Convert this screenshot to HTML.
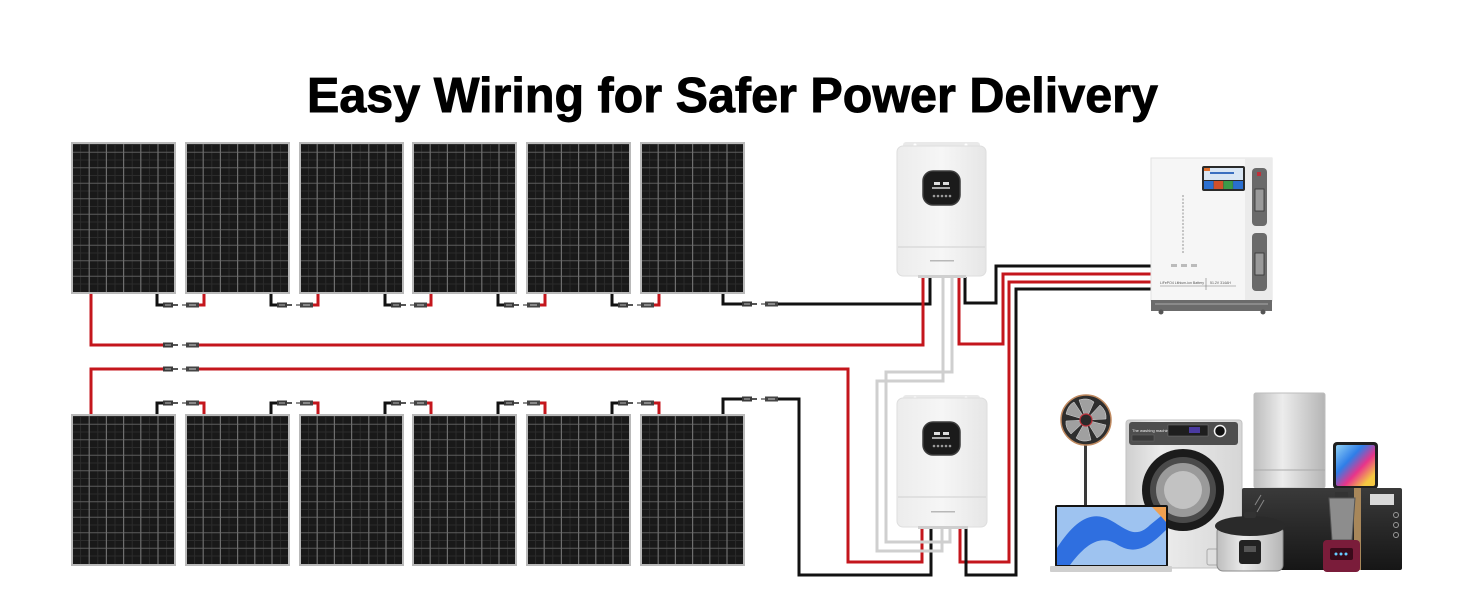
<!DOCTYPE html>
<html><head><meta charset="utf-8"><style>
html,body{margin:0;padding:0;background:#fff;}
svg{display:block;}
</style></head><body>
<svg width="1464" height="600" viewBox="0 0 1464 600" xmlns="http://www.w3.org/2000/svg">
<defs>
  <g id="panel">
    <rect x="0" y="0" width="103" height="150" fill="#191919" stroke="#b9b9b9" stroke-width="2"/>
    <g stroke="#2c2c2c" stroke-width="1">
      <line x1="1" y1="1.5" x2="102" y2="1.5"/><line x1="1" y1="17" x2="102" y2="17"/><line x1="1" y1="32.5" x2="102" y2="32.5"/>
      <line x1="1" y1="48" x2="102" y2="48"/><line x1="1" y1="63.5" x2="102" y2="63.5"/><line x1="1" y1="79" x2="102" y2="79"/>
      <line x1="1" y1="94.5" x2="102" y2="94.5"/><line x1="1" y1="110" x2="102" y2="110"/><line x1="1" y1="125.5" x2="102" y2="125.5"/>
      <line x1="1" y1="141" x2="102" y2="141"/>
      <line x1="8.6" y1="1" x2="8.6" y2="149"/><line x1="25.8" y1="1" x2="25.8" y2="149"/><line x1="43" y1="1" x2="43" y2="149"/>
      <line x1="60.2" y1="1" x2="60.2" y2="149"/><line x1="77.4" y1="1" x2="77.4" y2="149"/><line x1="94.6" y1="1" x2="94.6" y2="149"/>
    </g>
    <g stroke="#5c5c5c" stroke-width="1">
      <line x1="1" y1="9.3" x2="102" y2="9.3"/><line x1="1" y1="24.8" x2="102" y2="24.8"/><line x1="1" y1="40.3" x2="102" y2="40.3"/>
      <line x1="1" y1="55.8" x2="102" y2="55.8"/><line x1="1" y1="71.3" x2="102" y2="71.3"/><line x1="1" y1="86.8" x2="102" y2="86.8"/>
      <line x1="1" y1="102.3" x2="102" y2="102.3"/><line x1="1" y1="117.8" x2="102" y2="117.8"/><line x1="1" y1="133.3" x2="102" y2="133.3"/>
    </g>
    <g stroke="#6e6e6e" stroke-width="1.2">
      <line x1="17.2" y1="1" x2="17.2" y2="149"/><line x1="34.4" y1="1" x2="34.4" y2="149"/><line x1="51.6" y1="1" x2="51.6" y2="149"/>
      <line x1="68.8" y1="1" x2="68.8" y2="149"/><line x1="86" y1="1" x2="86" y2="149"/>
    </g>
  </g>
  <g id="conn">
    <rect x="0" y="-2.5" width="10" height="5" fill="#3a3a3a"/>
    <rect x="2" y="-1" width="6" height="2" fill="#777"/>
    <rect x="10" y="-1" width="5" height="2" fill="#555"/>
    <line x1="19" y1="0" x2="23" y2="0" stroke="#444" stroke-width="1.2"/>
    <rect x="23" y="-2.5" width="13" height="5" fill="#444"/>
    <rect x="26" y="-1" width="7" height="2" fill="#888"/>
  </g>
  <linearGradient id="inv" x1="0" y1="0" x2="1" y2="0">
    <stop offset="0" stop-color="#ececec"/><stop offset="0.5" stop-color="#f6f6f6"/><stop offset="1" stop-color="#e6e6e6"/>
  </linearGradient>
  <linearGradient id="silver" x1="0" y1="0" x2="1" y2="0">
    <stop offset="0" stop-color="#bdbdbd"/><stop offset="0.4" stop-color="#ececec"/><stop offset="1" stop-color="#b5b5b5"/>
  </linearGradient>
  <linearGradient id="wash" x1="0" y1="0" x2="1" y2="0">
    <stop offset="0" stop-color="#cfcfcf"/><stop offset="0.3" stop-color="#ececec"/><stop offset="1" stop-color="#d6d6d6"/>
  </linearGradient>
  <linearGradient id="tab" x1="0" y1="0" x2="1" y2="1">
    <stop offset="0" stop-color="#8fd0f5"/><stop offset="0.35" stop-color="#2f7ee8"/><stop offset="0.6" stop-color="#e8348a"/><stop offset="0.85" stop-color="#f5c842"/>
  </linearGradient>
  <linearGradient id="micro" x1="0" y1="0" x2="0" y2="1">
    <stop offset="0" stop-color="#3a3a3a"/><stop offset="1" stop-color="#161616"/>
  </linearGradient>
</defs>

<!-- Title -->
<text x="307" y="112" font-family="Liberation Sans, Arial, sans-serif" font-weight="700" font-size="49" textLength="851" lengthAdjust="spacingAndGlyphs" fill="#000" stroke="#000" stroke-width="0.9">Easy Wiring for Safer Power Delivery</text>

<!-- Panels top row -->
<use href="#panel" x="72" y="143"/>
<use href="#panel" x="186" y="143"/>
<use href="#panel" x="300" y="143"/>
<use href="#panel" x="413" y="143"/>
<use href="#panel" x="527" y="143"/>
<use href="#panel" x="641" y="143"/>
<!-- Panels bottom row -->
<use href="#panel" x="72" y="415"/>
<use href="#panel" x="186" y="415"/>
<use href="#panel" x="300" y="415"/>
<use href="#panel" x="413" y="415"/>
<use href="#panel" x="527" y="415"/>
<use href="#panel" x="641" y="415"/>

<!-- Wires -->
<g fill="none" stroke-width="3" stroke-linejoin="miter">
  <g stroke="#111">
    <polyline points="157,294 157,305 163,305"/>
    <polyline points="271,294 271,305 277,305"/>
    <polyline points="385,294 385,305 391,305"/>
    <polyline points="498,294 498,305 504,305"/>
    <polyline points="612,294 612,305 618,305"/>
    <polyline points="723,294 723,304 742,304"/>
    <polyline points="777,304 930,304 930,277"/>
  </g>
  <g stroke="#c4161c">
    <polyline points="199,305 204,305 204,294"/>
    <polyline points="313,305 318,305 318,294"/>
    <polyline points="427,305 431,305 431,294"/>
    <polyline points="540,305 545,305 545,294"/>
    <polyline points="654,305 659,305 659,294"/>
    <polyline points="91,294 91,345 163,345"/>
    <polyline points="199,345 923,345 923,277"/>
    <polyline points="91,414 91,369 163,369"/>
    <polyline points="199,369 848,369 848,562 922,562 922,527"/>
  </g>
  <g stroke="#111">
    <polyline points="157,414 157,403 163,403"/>
    <polyline points="271,414 271,403 277,403"/>
    <polyline points="385,414 385,403 391,403"/>
    <polyline points="498,414 498,403 504,403"/>
    <polyline points="612,414 612,403 618,403"/>
    <polyline points="723,414 723,399 742,399"/>
    <polyline points="777,399 799,399 799,575 931,575 931,527"/>
  </g>
  <g stroke="#c4161c">
    <polyline points="199,403 204,403 204,414"/>
    <polyline points="313,403 318,403 318,414"/>
    <polyline points="427,403 431,403 431,414"/>
    <polyline points="540,403 545,403 545,414"/>
    <polyline points="654,403 659,403 659,414"/>
  </g>
  <g stroke="#cfcfcf">
    <polyline points="943,277 943,381 877,381 877,551 942,551 942,527"/>
    <polyline points="952,277 952,372 886,372 886,542 950,542 950,527"/>
  </g>
  <polyline stroke="#c4161c" points="959,277 959,344 1003,344 1003,274 1152,274"/>
  <polyline stroke="#111" points="965,277 965,303 996,303 996,266 1152,266"/>
  <polyline stroke="#c4161c" points="1152,282 1009,282 1009,562 960,562 960,527"/>
  <polyline stroke="#111" points="1152,289 1016,289 1016,575 966,575 966,527"/>
</g>

<!-- Connectors -->
<use href="#conn" x="163" y="305"/>
<use href="#conn" x="277" y="305"/>
<use href="#conn" x="391" y="305"/>
<use href="#conn" x="504" y="305"/>
<use href="#conn" x="618" y="305"/>
<use href="#conn" x="742" y="304"/>
<use href="#conn" x="163" y="345"/>
<use href="#conn" x="163" y="369"/>
<use href="#conn" x="163" y="403"/>
<use href="#conn" x="277" y="403"/>
<use href="#conn" x="391" y="403"/>
<use href="#conn" x="504" y="403"/>
<use href="#conn" x="618" y="403"/>
<use href="#conn" x="742" y="399"/>

<!-- Inverter 1 -->
<g>
  <rect x="903" y="142" width="77" height="8" rx="3" fill="#e9e9e9"/>
  <circle cx="915" cy="145" r="1.5" fill="#fff"/><circle cx="966" cy="145" r="1.5" fill="#fff"/>
  <rect x="897" y="146" width="89" height="130" rx="6" fill="url(#inv)" stroke="#dedede"/>
  <line x1="898" y1="247" x2="985" y2="247" stroke="#d6d6d6" stroke-width="1.2"/>
  <rect x="930" y="260" width="24" height="1.5" fill="#b8b8b8"/>
  <rect x="923" y="171" width="37" height="34" rx="10" fill="#1b1b1b" stroke="#3c3c3c" stroke-width="1.5"/>
  <rect x="934" y="182" width="6" height="3" fill="#ddd"/><rect x="943" y="182" width="6" height="3" fill="#ddd"/>
  <rect x="932" y="187" width="18" height="2" fill="#aaa"/>
  <circle cx="934" cy="196" r="1.3" fill="#999"/><circle cx="938" cy="196" r="1.3" fill="#999"/><circle cx="942" cy="196" r="1.3" fill="#999"/><circle cx="946" cy="196" r="1.3" fill="#999"/><circle cx="950" cy="196" r="1.3" fill="#999"/>
  <rect x="918" y="275" width="48" height="3" fill="#cfcfcf"/>
</g>
<!-- Inverter 2 -->
<g>
  <rect x="903" y="395" width="77" height="8" rx="3" fill="#e9e9e9"/>
  <circle cx="915" cy="398" r="1.5" fill="#fff"/><circle cx="966" cy="398" r="1.5" fill="#fff"/>
  <rect x="897" y="398" width="90" height="129" rx="6" fill="url(#inv)" stroke="#dedede"/>
  <line x1="898" y1="497" x2="986" y2="497" stroke="#d6d6d6" stroke-width="1.2"/>
  <rect x="931" y="511" width="24" height="1.5" fill="#b8b8b8"/>
  <rect x="923" y="422" width="37" height="33" rx="10" fill="#1b1b1b" stroke="#3c3c3c" stroke-width="1.5"/>
  <rect x="934" y="432" width="6" height="3" fill="#ddd"/><rect x="943" y="432" width="6" height="3" fill="#ddd"/>
  <rect x="932" y="437" width="18" height="2" fill="#aaa"/>
  <circle cx="934" cy="446" r="1.3" fill="#999"/><circle cx="938" cy="446" r="1.3" fill="#999"/><circle cx="942" cy="446" r="1.3" fill="#999"/><circle cx="946" cy="446" r="1.3" fill="#999"/><circle cx="950" cy="446" r="1.3" fill="#999"/>
  <rect x="918" y="526" width="50" height="3" fill="#cfcfcf"/>
</g>

<!-- Battery -->
<g>
  <rect x="1151" y="158" width="121" height="143" fill="#f6f6f6" stroke="#e2e2e2"/>
  <rect x="1245" y="158" width="27" height="143" fill="#ebebeb"/>
  <rect x="1252" y="168" width="15" height="58" rx="4" fill="#6a6a6a"/>
  <rect x="1255" y="189" width="9" height="22" fill="#9a9a9a" stroke="#333" stroke-width="0.8"/>
  <rect x="1257" y="172" width="4" height="4" fill="#c0303a"/>
  <rect x="1252" y="233" width="15" height="58" rx="4" fill="#6a6a6a"/>
  <rect x="1255" y="253" width="9" height="22" fill="#9a9a9a" stroke="#333" stroke-width="0.8"/>
  <rect x="1202" y="166" width="43" height="25" rx="2" fill="#2a2a2a"/>
  <rect x="1204" y="168" width="39" height="12" fill="#d9e6f4"/>
  <rect x="1204" y="168" width="6" height="3" fill="#e07030"/>
  <rect x="1210" y="172" width="24" height="2" fill="#3a6fc0"/>
  <rect x="1204" y="181" width="9.5" height="8" fill="#2a6fd0"/>
  <rect x="1213.7" y="181" width="9.5" height="8" fill="#d0502a"/>
  <rect x="1223.4" y="181" width="9.5" height="8" fill="#3a9a4a"/>
  <rect x="1233.1" y="181" width="9.9" height="8" fill="#2a6fd0"/>
  <line x1="1183" y1="195" x2="1183" y2="253" stroke="#c4c4c4" stroke-width="2" stroke-dasharray="2 1.5"/>
  <rect x="1171" y="264" width="6" height="3" fill="#bbb"/><rect x="1181" y="264" width="6" height="3" fill="#bbb"/><rect x="1191" y="264" width="6" height="3" fill="#bbb"/>
  <text x="1160" y="284" font-family="Liberation Sans, sans-serif" font-size="3.5" fill="#555">LiFePO4 Lithium-ion Battery</text>
  <text x="1210" y="284" font-family="Liberation Sans, sans-serif" font-size="3.5" fill="#555">51.2V 314AH</text>
  <line x1="1160" y1="286" x2="1236" y2="286" stroke="#777" stroke-width="0.6"/>
  <line x1="1206" y1="278" x2="1206" y2="290" stroke="#777" stroke-width="0.6"/>
  <rect x="1151" y="300" width="121" height="11" fill="#6b6b6b"/>
  <rect x="1155" y="303" width="113" height="2" fill="#8a8a8a"/>
  <circle cx="1161" cy="312" r="2.5" fill="#555"/><circle cx="1263" cy="312" r="2.5" fill="#555"/>
</g>

<!-- Appliances -->
<g>
  <!-- Fan -->
  <rect x="1084" y="444" width="3" height="62" fill="#3a3a3a"/>
  <circle cx="1086" cy="420" r="25" fill="#2e2e2e" stroke="#c08a60" stroke-width="1.5"/>
  <g fill="#a0a0a0" stroke="#ddd" stroke-width="0.5">
    <path d="M1086,420 L1079,400 Q1088,397 1094,402 Z"/>
    <path d="M1086,420 L1100,405 Q1107,411 1106,419 Z"/>
    <path d="M1086,420 L1106,425 Q1104,434 1097,438 Z"/>
    <path d="M1086,420 L1091,440 Q1082,443 1076,438 Z"/>
    <path d="M1086,420 L1071,434 Q1065,428 1066,421 Z"/>
    <path d="M1086,420 L1066,414 Q1068,405 1074,402 Z"/>
  </g>
  <circle cx="1086" cy="420" r="6" fill="#2a2a2a" stroke="#c0303a" stroke-width="1.2"/>

  <!-- Fridge -->
  <rect x="1254" y="393" width="71" height="95" rx="2" fill="url(#silver)" stroke="#bdbdbd"/>
  <line x1="1254" y1="470" x2="1325" y2="470" stroke="#a9a9a9"/>
  <!-- Tablet -->
  <rect x="1333" y="442" width="45" height="47" rx="4" fill="#1f1f1f"/>
  <rect x="1336" y="445" width="39" height="41" rx="2" fill="url(#tab)"/>

  <!-- Washing machine -->
  <rect x="1126" y="420" width="116" height="148" rx="3" fill="url(#wash)" stroke="#c2c2c2"/>
  <rect x="1129" y="422" width="109" height="23" rx="3" fill="#4e4e4e"/>
  <text x="1132" y="432" font-family="Liberation Sans, sans-serif" font-size="4" fill="#eee">The washing machine</text>
  <rect x="1132" y="435" width="22" height="6" fill="#3a3a3a" stroke="#666" stroke-width="0.5"/>
  <rect x="1168" y="425" width="40" height="11" fill="#1e1e1e" stroke="#777" stroke-width="0.5"/>
  <rect x="1189" y="427" width="11" height="6" fill="#4a3aa0"/>
  <circle cx="1220" cy="431" r="5.5" fill="#111" stroke="#f2f2f2" stroke-width="1.5"/>
  <circle cx="1183" cy="490" r="41" fill="#1b1b1b"/>
  <circle cx="1183" cy="490" r="33" fill="#4a4a4a"/>
  <circle cx="1183" cy="490" r="27" fill="#9a9a9a"/>
  <circle cx="1183" cy="490" r="19" fill="#c2c2c2"/>
  <rect x="1207" y="549" width="16" height="16" rx="2" fill="none" stroke="#aaa"/>

  <!-- Microwave -->
  <rect x="1242" y="488" width="160" height="82" rx="2" fill="url(#micro)"/>
  <rect x="1354" y="488" width="7" height="82" fill="#a8875a"/>
  <rect x="1370" y="494" width="24" height="11" fill="#d8d8d8"/>
  <circle cx="1396" cy="515" r="2.5" fill="none" stroke="#999"/><circle cx="1396" cy="525" r="2.5" fill="none" stroke="#999"/><circle cx="1396" cy="535" r="2.5" fill="none" stroke="#999"/>
  <line x1="1255" y1="505" x2="1261" y2="495" stroke="#888" stroke-width="1"/>
  <line x1="1257" y1="512" x2="1264" y2="500" stroke="#888" stroke-width="1"/>

  <!-- Laptop -->
  <rect x="1055" y="505" width="113" height="62" rx="2" fill="#141414"/>
  <rect x="1057" y="507" width="109" height="58" fill="#9ec3f0"/>
  <path d="M1057,548 C1075,520 1092,510 1110,520 C1125,528 1135,540 1150,525 L1166,512 L1166,530 C1148,548 1135,555 1118,545 C1100,533 1085,545 1070,565 L1057,565 Z" fill="#2f6fe0"/>
  <path d="M1152,507 L1166,507 L1166,522 C1160,515 1156,511 1152,507 Z" fill="#f0a050"/>
  <rect x="1050" y="566" width="122" height="6" rx="1" fill="#cfcfcf"/>

  <!-- Rice cooker -->
  <rect x="1217" y="526" width="66" height="45" rx="6" fill="url(#silver)" stroke="#8a8a8a"/>
  <ellipse cx="1250" cy="526" rx="35" ry="10" fill="#2a2a2a"/>
  <rect x="1244" y="512" width="12" height="6" rx="2" fill="#333"/>
  <rect x="1239" y="540" width="22" height="24" rx="3" fill="#222"/>
  <rect x="1244" y="546" width="12" height="6" fill="#555"/>

  <!-- Blender -->
  <rect x="1335" y="492" width="13" height="6" fill="#333"/>
  <path d="M1329,498 L1355,498 L1352,540 L1332,540 Z" fill="#8d8d8d" stroke="#555"/>
  <rect x="1323" y="540" width="37" height="32" rx="4" fill="#7a1c3a"/>
  <rect x="1330" y="548" width="23" height="12" rx="2" fill="#3a0a1a"/>
  <circle cx="1336" cy="554" r="1.5" fill="#6cf"/><circle cx="1341" cy="554" r="1.5" fill="#6cf"/><circle cx="1346" cy="554" r="1.5" fill="#6cf"/>
</g>
</svg>
</body></html>
